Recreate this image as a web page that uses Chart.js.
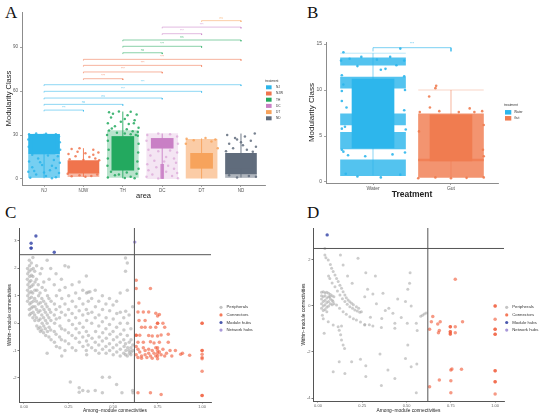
<!DOCTYPE html>
<html>
<head>
<meta charset="utf-8">
<script src="https://cdn.jsdelivr.net/npm/chart.js@4.4.1/dist/chart.umd.min.js"></script>
<style>
body { margin: 0; background: #fff; width: 550px; height: 418px; position: relative; overflow: hidden; }
canvas { position: absolute; }
.tag { position: absolute; font-family: "Liberation Serif", "DejaVu Serif", serif; font-size: 17px; color: #111; line-height: 1; }
</style>
</head>
<body>
<div class="tag" style="left:5px;top:4px">A</div>
<div class="tag" style="left:307px;top:4px">B</div>
<div class="tag" style="left:5px;top:204px">C</div>
<div class="tag" style="left:307px;top:204px">D</div>
<canvas id="cA" width="290" height="200" style="left:0;top:0"></canvas>
<canvas id="cB" width="230" height="200" style="left:300px;top:0"></canvas>
<canvas id="cC" width="275" height="213" style="left:0;top:205px"></canvas>
<canvas id="cD" width="255" height="213" style="left:295px;top:205px"></canvas>
<script>
// ---------- panel A : modularity class by area ----------
const areas = ['NJ', 'NJW', 'TH', 'DC', 'DT', 'ND'];
const denseA = [[17, 30.5], [4, 12.5], null, null, null, [3.5, 17.5]];
const hazeA = [[1, 16.5], [1.5, 4], [1, 33], [0, 31], [0.5, 27], [1, 3.5]];
const boxA = [[17, 30.5], [5, 11.5], [6, 29], [21, 27.7], [7.3, 17.5], [7.3, 17.5]];
const whiskA = [[0.5, 31], [1.5, 21], [0.5, 46], [0, 31], [0.3, 27.7], [1, 31]];
const stemA = [null, null, null, [0.3, 10], null, null];
const jitA = [
  [[-0.38,30.5],[-0.2,31],[0.05,30.8],[0.3,30.6],[0.38,29],[-0.4,27],[0.4,25],[-0.39,22],[0.41,20],[-0.3,16.5],[0.1,16],[0.35,15.5],[-0.15,14],[0.25,13],[-0.38,12],[0.4,11],[-0.05,9.5],[-0.3,8],[0.3,7.5],[0.15,6],[-0.4,5],[0.38,4],[-0.2,3],[0.05,2],[0.3,1.2],[-0.35,0.8],[0.2,0.5],[-0.1,11.5],[0.2,9],[-0.25,5.5],[0,4.5]],
  [[-0.3,20.5],[-0.1,21],[0.25,20],[0.38,18],[-0.38,17],[0.05,17.5],[-0.2,15.5],[0.15,15],[0.3,14],[-0.35,13.5],[0,13],[0.4,12.8],[-0.4,3.5],[0.35,3],[-0.1,2.5],[0.2,2],[-0.3,1.8],[0.05,1.5],[0.25,16.5],[-0.15,18.5]],
  [[-0.35,45.5],[-0.1,46],[0.2,45.8],[0.35,44],[-0.25,44.5],[0.12,43.5],[-0.3,42],[0.05,41],[0.3,40],[-0.05,39],[-0.38,38],[0.28,38],[0.15,37.5],[-0.2,36],[0.4,35],[-0.28,34.5],[0.1,34],[-0.35,33],[0.25,32.5],[0.38,32],[0.05,31],[-0.4,30],[0.38,29.5],[-0.38,26],[0.4,24],[-0.36,20],[0.39,18],[-0.38,14],[0.37,12],[-0.39,9],[0.4,7],[-0.3,5],[0.1,4.5],[0.35,3.5],[-0.2,2.5],[0.2,1.5],[-0.38,1],[0.05,0.6],[0.3,0.5],[-0.1,3],[0.2,30.5],[-0.15,31.5],[0.33,30]],
  [[-0.38,30],[-0.1,31],[0.2,30.5],[0.38,29],[-0.4,26],[0.4,24],[-0.35,20],[-0.1,19],[0.2,19.5],[0.38,18],[-0.3,16],[0.1,15],[0.3,14],[-0.2,12.5],[0.05,12],[0.35,11],[-0.38,10],[0.15,9],[-0.15,8],[0.3,7],[-0.35,6],[0.1,5],[0.38,4],[-0.25,3],[0.25,2],[-0.4,1.5],[0.4,0.5],[-0.1,0.3]],
  [[-0.38,27.5],[0.1,28],[0.35,27],[-0.2,26.5],[0.25,25.5],[-0.4,24],[0.41,21]],
  [[-0.35,30],[0.35,31],[0.1,29],[-0.1,27],[0.25,26],[-0.3,24],[0.05,23],[0.38,22],[-0.2,21],[0.15,20],[-0.38,19],[0.3,18.5],[0,25],[-0.15,28],[-0.3,2.5],[0.2,2],[0.38,1.5],[-0.1,1]]
];
const pairsA = [[0,1],[0,2],[0,3],[0,4],[0,5],[1,2],[1,3],[1,4],[1,5],[2,3],[2,4],[2,5],[3,4],[3,5],[4,5]];
const levelsA = [47, 50.9, 55.2, 59.8, 64.3, 68.4, 73, 77.5, 81.6, 86.1, 90.5, 94.8, 99.1, 103.6, 108];
const signifA = ['***', 'ns', 'ns', '***', '***', '***', '***', '***', '***', 'ns', '***', 'ns', '***', '***', 'ns'];

// ---------- panel B : modularity class by treatment ----------
const treatments = ['Water', 'Gut'];
const bandsB = [[[0.7, 2.4], [3.6, 5.4], [6.2, 7.4], [10.2, 11.4], [12.7, 13.5]], [[0.5, 2.5], [2.3, 7.4]]];
const boxB = [[3.7, 11.2], [2.3, 7.3]];
const whiskB = [[0.7, 14], [0.5, 10]];
const jitB = [
  [[-0.38,14.1],[0.35,14.5],[0.1,12.2],[0.16,12.3],[-0.38,10.6],[-0.4,8.8],[-0.34,8.1],[-0.36,6],[-0.38,3.3],[-0.32,2.9],[-0.41,13.2],[-0.3,13.4],[-0.15,13.6],[0.05,13.3],[0.22,13.6],[0.4,13.2],[-0.2,12.6],[0.3,12.7],[-0.4,11.6],[0.4,11.5],[-0.4,9.9],[0.41,10],[0.4,7.8],[-0.4,5.8],[0.42,5.7],[-0.4,3.5],[0.41,3.2],[-0.2,0.6],[0.1,0.5],[0.35,0.8],[-0.35,0.9],[0.25,3],[-0.1,2.8]],
  [[-0.2,10.2],[-0.19,10.45],[-0.28,9.3],[-0.27,8.1],[0.24,8],[0.4,7.7],[-0.4,7.6],[0.1,7.6],[-0.15,7.7],[0.3,7.6],[0.42,2.8],[-0.42,0.4],[0.42,0.5],[0,0.4],[-0.2,0.5],[0.2,0.45],[0.41,3.5],[-0.41,5.5],[0.42,6.2]]
];
const pairsB = [[0, 1]];
const levelsB = [14.6];
const signifB = ['***'];

// ---------- panels C and D : Zi-Pi roles ----------
const roles = ['Peripherals', 'Connectors', 'Module hubs', 'Network hubs'];
const piCut = 0.62;
const ziCut = 2.5;
const periphC = [
  [0.02,2.0],[0.021,1.8],[0.019,1.6],[0.022,1.4],[0.02,1.2],[0.021,1.0],[0.02,0.8],
  [0.03,2.3],[0.031,2.1],[0.029,1.9],[0.032,1.7],[0.03,1.5],[0.031,1.3],[0.029,1.1],[0.03,0.9],[0.032,0.7],[0.03,0.5],[0.031,0.3],
  [0.041,2.2],[0.04,1.95],[0.042,1.75],[0.039,1.55],[0.041,1.35],[0.04,1.15],[0.042,0.95],[0.04,0.75],[0.041,0.55],[0.039,0.35],
  [0.05,2.4],[0.052,2.0],[0.05,1.7],[0.051,1.4],[0.049,1.1],[0.052,0.8],[0.05,0.6],[0.051,0.4],[0.05,0.2],
  [0.06,1.9],[0.062,1.5],[0.061,1.2],[0.06,0.9],[0.062,0.6],[0.06,0.3],[0.061,0.1],
  [0.071,2.1],[0.07,1.6],[0.072,1.2],[0.07,0.8],[0.071,0.5],[0.07,0.2],[0.072,-0.1],
  [0.08,1.4],[0.082,1.0],[0.081,0.7],[0.08,0.4],[0.082,0.1],[0.08,-0.2],
  [0.091,1.8],[0.09,1.1],[0.092,0.75],[0.09,0.45],[0.091,0.15],[0.09,-0.15],[0.092,-0.3],
  [0.1,2.0],[0.102,1.3],[0.1,0.9],[0.101,0.6],[0.1,0.3],[0.102,0.0],[0.1,-0.25],
  [0.111,1.5],[0.11,0.8],[0.112,0.5],[0.11,0.2],[0.111,-0.1],[0.11,-0.35],
  [0.12,1.2],[0.122,0.7],[0.12,0.4],[0.121,0.1],[0.12,-0.2],[0.122,-0.45],
  [0.13,2.3],[0.132,1.0],[0.13,0.6],[0.131,0.3],[0.13,0.0],[0.132,-0.3],[0.13,-1.1],
  [0.141,1.6],[0.14,0.9],[0.142,0.5],[0.14,0.2],[0.141,-0.15],[0.14,-0.5],
  [0.15,2.0],[0.152,0.8],[0.15,0.4],[0.151,0.1],[0.15,-0.25],[0.152,-0.6],
  [0.17,1.4],[0.171,0.7],[0.17,0.3],[0.172,0.0],[0.17,-0.3],[0.171,-0.7],
  [0.18,1.8],[0.182,1.0],[0.18,0.5],[0.181,0.15],[0.18,-0.4],[0.182,-0.85],
  [0.2,1.2],[0.201,0.6],[0.2,0.2],[0.202,-0.1],[0.2,-0.5],[0.201,-0.9],
  [0.21,1.6],[0.212,0.9],[0.21,0.4],[0.211,-0.2],[0.21,-0.6],[0.212,-1.2],
  [0.23,2.1],[0.231,1.3],[0.23,0.7],[0.232,0.3],[0.23,-0.25],[0.231,-0.65],[0.23,-1.0],
  [0.25,2.05],[0.251,1.0],[0.25,0.5],[0.252,0.1],[0.25,-0.35],[0.251,-0.75],
  [0.27,1.4],[0.271,0.8],[0.27,0.35],[0.272,-0.05],[0.27,-0.45],[0.271,-0.9],[0.26,-2.15],
  [0.29,1.1],[0.291,0.6],[0.29,0.2],[0.292,-0.2],[0.29,-0.55],[0.291,-1.0],
  [0.31,1.5],[0.311,0.9],[0.31,0.45],[0.312,0.0],[0.31,-0.35],[0.311,-0.7],[0.31,-2.36],[0.31,-2.52],
  [0.33,1.2],[0.331,0.7],[0.33,0.3],[0.332,-0.15],[0.33,-0.5],[0.331,-0.85],[0.33,-2.46],
  [0.35,1.72],[0.351,1.1],[0.35,0.5],[0.352,0.1],[0.35,-0.3],[0.351,-0.65],[0.35,-1.0],[0.352,-1.15],
  [0.36,1.13],[0.361,0.8],[0.36,0.35],[0.362,-0.45],[0.36,-0.8],[0.36,-2.48],
  [0.37,1.15],[0.38,0.9],[0.381,0.4],[0.38,0.0],[0.382,-0.55],[0.38,-0.9],
  [0.4,1.2],[0.401,0.6],[0.4,0.2],[0.402,-0.3],[0.4,-0.7],[0.401,-1.0],[0.4,-2.46],
  [0.42,0.8],[0.421,0.3],[0.42,-0.1],[0.422,-0.5],[0.42,-0.8],[0.421,-1.1],
  [0.44,1.0],[0.441,0.5],[0.44,0.05],[0.442,-0.35],[0.44,-0.65],[0.441,-0.95],[0.44,-1.97],[0.44,-2.54],
  [0.46,0.7],[0.461,0.2],[0.46,-0.2],[0.462,-0.55],[0.46,-0.85],[0.461,-1.1],
  [0.48,0.9],[0.481,0.45],[0.48,-0.05],[0.482,-0.4],[0.48,-0.75],[0.481,-1.0],[0.48,-1.97],
  [0.5,0.66],[0.501,0.15],[0.5,-0.3],[0.502,-0.6],[0.5,-0.9],[0.501,-1.15],
  [0.52,0.8],[0.521,0.35],[0.52,-0.15],[0.522,-0.5],[0.52,-0.8],[0.521,-1.05],[0.52,-2.24],
  [0.54,1.1],[0.541,0.4],[0.54,0.0],[0.542,-0.4],[0.54,-0.7],[0.541,-0.95],[0.54,-1.2],[0.55,-2.54],
  [0.56,0.2],[0.561,-0.25],[0.56,-0.6],[0.562,-0.85],[0.56,-1.1],
  [0.57,2.38],[0.58,2.2],[0.57,1.9],[0.571,0.44],[0.57,-0.75],[0.572,-1.0],[0.57,-1.15],
  [0.58,1.2],[0.581,0.0],[0.58,-0.45],[0.582,-0.9],[0.58,-1.2],
  [0.59,0.3],[0.591,-0.7],[0.59,-1.0],[0.592,-1.1],
  [0.6,-0.2],[0.601,-0.6],[0.6,-0.9],[0.602,-1.05],[0.6,-1.15],
  [0.61,0.6],[0.611,-0.8],[0.61,-1.0],[0.61,-2.46],[0.612,-2.54]
];
const connC = [
  [0.63,1.57],[0.63,1.27],[0.71,1.27],[0.645,0.74],[0.64,0.41],[0.67,0.41],[0.70,0.41],[0.74,0.36],[0.75,0.26],[0.76,0.32],
  [0.646,0.1],[0.68,0.1],[0.75,0.0],[0.75,0.0],[0.78,0.0],[1.0,0.0],[1.0,0.0],
  [0.66,-0.15],[0.68,-0.15],[0.71,-0.15],[0.74,-0.15],[0.79,-0.15],
  [0.63,-0.44],[0.63,-0.44],[0.65,-0.44],[0.70,-0.45],[0.72,-0.47],[0.75,-0.47],[0.77,-0.43],[0.81,-0.4],
  [0.64,-0.7],[0.67,-0.7],[0.71,-0.68],[0.73,-0.72],[0.76,-0.7],[0.81,-0.7],
  [0.63,-0.85],[0.64,-0.95],[0.65,-1.05],[0.63,-1.15],[0.66,-1.2],[0.67,-0.9],[0.68,-1.0],[0.68,-1.15],[0.69,-1.25],
  [0.70,-0.95],[0.70,-1.1],[0.71,-1.2],[0.72,-1.0],[0.72,-1.28],[0.73,-1.1],[0.74,-0.9],[0.74,-1.2],
  [0.75,-0.9],[0.75,-1.0],[0.75,-1.1],[0.75,-1.2],[0.75,-1.3],[0.76,-1.05],[0.77,-1.15],[0.78,-0.95],[0.79,-1.2],
  [0.80,-1.1],[0.82,-1.0],[0.83,-1.2],[0.85,-1.0],[0.88,-1.13],[0.89,-1.1],[0.93,-1.17],[0.66,-1.28],[0.64,-1.25],
  [1.0,-1.0],[1.0,-1.0],[1.0,-1.13],[1.0,-1.25],[1.0,-1.3],[1.0,-1.75],
  [0.64,-2.54],[0.71,-2.54],[0.77,-2.6],[1.0,-2.64],[1.0,-2.64]
];
const moduleC = [[0.04,2.92],[0.04,2.74],[0.04,2.74],[0.067,3.18],[0.17,2.59]];
const networkC = [[0.622,2.96]];

const periphD = [
  [0.02,0.6],[0.03,0.62],[0.04,0.58],[0.05,0.6],[0.06,0.55],[0.07,0.5],[0.08,0.45],[0.09,0.4],
  [0.02,0.45],[0.03,0.4],[0.04,0.45],[0.05,0.35],[0.06,0.4],[0.07,0.3],[0.08,0.25],
  [0.02,0.3],[0.03,0.2],[0.04,0.25],[0.05,0.15],[0.06,0.2],[0.07,0.1],[0.08,0.05],[0.09,0.1],
  [0.02,0.1],[0.03,0.0],[0.04,0.05],[0.05,-0.05],[0.06,0.0],[0.02,-0.1],[0.03,-0.2],[0.04,-0.15],[0.05,-0.25],
  [0.025,-0.4],[0.03,-0.55],[0.035,-1.19],[0.058,-0.68],[0.086,-0.83],[0.133,-0.87],
  [0.039,2.5],[0.039,2.22],[0.045,2.1],[0.058,2.0],[0.07,1.8],[0.077,1.64],[0.086,1.5],[0.096,1.35],[0.105,1.2],[0.114,1.06],
  [0.124,0.9],[0.133,0.77],[0.142,0.62],[0.152,0.48],[0.16,0.36],[0.17,0.26],[0.18,0.18],[0.19,0.12],[0.2,0.05],[0.217,-0.03],[0.23,-0.1],[0.245,-0.25],
  [0.06,1.3],[0.067,1.2],[0.08,1.0],[0.096,0.84],[0.11,0.65],[0.124,0.48],[0.138,0.32],[0.152,0.19],[0.165,0.08],[0.18,-0.03],[0.195,-0.1],[0.208,-0.17],[0.222,-0.22],[0.236,-0.27],
  [0.067,0.4],[0.085,0.2],[0.105,0.04],[0.122,-0.1],[0.142,-0.25],[0.16,-0.36],[0.18,-0.47],[0.2,-0.55],[0.217,-0.61],[0.24,-0.7],[0.264,-0.8],[0.29,-0.82],[0.31,-0.87],[0.358,-0.93],
  [0.114,-0.9],[0.12,-1.05],[0.128,-1.25],[0.133,-1.48],[0.142,-1.7],[0.15,-1.85],
  [0.127,2.22],[0.226,2.07],[0.142,1.78],[0.167,1.3],[0.27,1.45],[0.324,1.3],[0.52,1.45],[0.517,0.99],[0.507,0.73],[0.28,0.73],
  [0.193,0.99],[0.367,0.55],[0.31,0.52],[0.264,0.4],[0.494,0.19],[0.526,0.0],[0.423,-0.32],[0.36,-0.54],[0.296,-0.49],[0.264,-0.83],
  [0.434,-0.97],[0.434,-0.75],[0.504,-0.75],[0.555,-0.75],[0.56,-1.07],[0.58,-0.45],[0.59,-0.4],[0.6,-0.35],[0.61,-0.3],[0.507,-1.7],
  [0.12,-2.42],[0.152,-2.93],[0.19,-2.42],[0.24,-2.32],[0.27,-2.6],[0.27,-3.07],[0.35,-2.09],[0.395,-2.78],[0.434,-3.15],[0.494,-2.28],
  [0.526,-2.64],[0.558,-2.52],[0.358,-3.46],[0.086,-2.86],[0.555,-3.77],[0.4,-0.1],[0.45,0.3],[0.33,0.1],[0.38,-0.2],[0.47,-0.5]
];
const connD = [
  [0.775,1.16],[0.648,-0.46],[0.64,-0.68],[0.63,-1.01],[0.676,-0.78],[0.69,-0.68],[0.685,-1.07],[0.68,-1.16],
  [0.747,-0.9],[0.747,-0.9],[0.747,-1.12],[0.747,-1.12],[0.747,-1.22],[0.747,-1.22],[0.775,-0.9],[0.775,-1.16],[0.816,-0.68],
  [1.0,0.0],[1.0,0.0],[1.0,-0.58],[1.0,-1.01],[1.0,-1.01],[1.0,-1.23],[1.0,-1.23],
  [0.75,-2.78],[0.756,-2.74],[0.81,-2.75],[1.0,-2.81],[1.0,-2.81],[0.685,-3.22],[0.75,-3.25],[1.0,-3.29],[1.0,-3.29],
  [0.63,-3.51],[0.75,-3.77],[1.0,-3.83]
];
const moduleD = [[0.052,3.09]];
const networkD = [];

// ---------- styling ----------
const FONT = '"Liberation Sans", Arial, sans-serif';
const areaColors = ['#2cb5ea', '#f0744d', '#23a95f', '#c97fc5', '#f7a35c', '#606c7c'];
const hazeAlpha = [0.65, 0.5, 0.32, 0.2, 0.55, 0.5];
const treatColors = ['#2db6ec', '#f07c50'];
const roleColors = ['rgba(170,170,170,0.6)', 'rgba(240,85,50,0.6)', 'rgba(60,75,170,0.85)', 'rgba(160,145,215,0.9)'];
const legendRoleColors = ['#c4c4c4', '#f47a5a', '#4a58ad', '#a898d8'];

function fade(hex, a) {
  const n = parseInt(hex.slice(1), 16);
  return 'rgba(' + (n >> 16) + ',' + ((n >> 8) & 255) + ',' + (n & 255) + ',' + a + ')';
}

function axis(o) {
  return {
    type: 'linear', min: o.min, max: o.max, offset: false,
    afterBuildTicks: s => { s.ticks = o.ticks.map(v => ({ value: v })); },
    afterFit: s => { if (o.w) s.width = o.w; if (o.h) s.height = o.h; },
    ticks: { callback: o.fmt || (v => v), font: { family: FONT, size: o.tickSize }, color: o.tickColor,
             padding: o.tickPad, maxRotation: 0, autoSkip: false },
    grid: { offset: false, drawOnChartArea: false, drawTicks: true, tickLength: o.tickLen, color: o.line, lineWidth: 0.8 },
    border: { color: o.line, width: 1 },
    title: { display: true, text: o.title, color: '#222', padding: o.titlePad,
             font: { family: FONT, size: o.titleSize, lineHeight: 1, weight: o.bold ? 'bold' : 'normal' } }
  };
}

// text labels of the comparison brackets
const sigLabels = {
  id: 'sigLabels',
  afterDatasetsDraw(chart, args, o) {
    if (!o.pairs) return;
    const { ctx, scales: { x, y } } = chart;
    ctx.save();
    ctx.font = o.size + 'px ' + FONT;
    ctx.textAlign = 'center';
    ctx.textBaseline = 'bottom';
    o.pairs.forEach((p, k) => {
      ctx.fillStyle = o.colors[k];
      ctx.fillText(o.labels[k], x.getPixelForValue((p[0] + p[1]) / 2), y.getPixelForValue(o.levels[k]) - o.lift);
    });
    ctx.restore();
  }
};

// ggplot-like legend drawn beside the panel
const sideLegend = {
  id: 'sideLegend',
  afterDraw(chart, args, o) {
    if (!o.items) return;
    const ctx = chart.ctx;
    ctx.save();
    ctx.textBaseline = 'middle';
    ctx.textAlign = 'left';
    if (o.title) {
      ctx.font = o.size + 'px ' + FONT;
      ctx.fillStyle = '#333';
      ctx.fillText(o.title, o.x, o.titleY);
    }
    o.items.forEach((it, k) => {
      const cy = o.y + k * o.gap;
      ctx.fillStyle = it.color;
      if (o.shape === 'square') {
        ctx.fillRect(o.x + 1, cy - o.s / 2, o.s * 1.4, o.s);
      } else {
        ctx.beginPath();
        ctx.arc(o.x, cy, o.s / 2, 0, Math.PI * 2);
        ctx.fill();
      }
      ctx.fillStyle = '#333';
      ctx.font = o.size + 'px ' + FONT;
      ctx.fillText(it.label, o.x + o.tx, cy);
    });
    ctx.restore();
  }
};

function bar(data, color, width, order) {
  return { type: 'bar', data: data, backgroundColor: color, barThickness: width, grouped: false,
           borderWidth: 0, order: order };
}
function seg(points, color, width, order) {
  return { type: 'line', data: points, borderColor: color, borderWidth: width, pointRadius: 0,
           fill: false, tension: 0, order: order };
}
function dots(points, color, r, order) {
  return { type: 'scatter', data: points, backgroundColor: color, pointRadius: r, pointBorderWidth: 0,
           pointHoverRadius: 0, order: order };
}
function bracketSets(pairs, levels, colors, drop) {
  return pairs.map((p, k) => seg([
    { x: p[0], y: levels[k] - drop }, { x: p[0], y: levels[k] },
    { x: p[1], y: levels[k] }, { x: p[1], y: levels[k] - drop }
  ], colors[k], 0.9, 1));
}
const base = {
  responsive: false, animation: false, events: [],
  plugins: { legend: { display: false }, tooltip: { enabled: false } }
};

// ---------- chart A ----------
(function () {
  const ds = [];
  hazeA.forEach((r, i) => { if (r) ds.push(bar([{ x: i, y: r }], fade(areaColors[i], hazeAlpha[i]), 31, 9)); });
  denseA.forEach((r, i) => { if (r) ds.push(bar([{ x: i, y: r }], areaColors[i], 31, 8)); });
  whiskA.forEach((r, i) => ds.push(seg([{ x: i, y: r[0] }, { x: i, y: r[1] }], areaColors[i], 0.9, 7)));
  stemA.forEach((r, i) => { if (r) ds.push(bar([{ x: i, y: r }], fade(areaColors[i], 0.85), 3, 6)); });
  jitA.forEach((pts, i) => ds.push(dots(pts.map(p => ({ x: i + p[0], y: p[1] })),
    fade(areaColors[i], i === 3 ? 0.45 : 0.85), 1.25, 5)));
  boxA.forEach((r, i) => ds.push(bar([{ x: i, y: r }], areaColors[i], 22, 4)));
  const bColors = pairsA.map(p => fade(areaColors[p[0]], 0.6));
  bracketSets(pairsA, levelsA, bColors, 0.9).forEach(d => ds.push(d));

  new Chart(document.getElementById('cA'), {
    type: 'scatter',
    data: { datasets: ds },
    plugins: [sigLabels, sideLegend],
    options: Object.assign({}, base, {
      layout: { padding: { top: 12, right: 25, left: 0, bottom: 0 } },
      scales: {
        x: axis({ min: -0.56, max: 5.61, ticks: [0, 1, 2, 3, 4, 5], fmt: v => areas[v], h: 15, tickSize: 4.5,
                  tickColor: '#555', tickPad: 1, tickLen: 2, line: '#8c8c8c', title: 'area', titleSize: 7.5, titlePad: 0 }),
        y: axis({ min: -4.1, max: 113.9, ticks: [0, 30, 60, 90], w: 22, tickSize: 4.5,
                  tickColor: '#555', tickPad: 2, tickLen: 2, line: '#8c8c8c', title: 'Modularity Class', titleSize: 7.5, titlePad: 5.5 })
      },
      plugins: Object.assign({}, base.plugins, {
        sigLabels: { pairs: pairsA, levels: levelsA, labels: signifA, colors: pairsA.map(p => fade(areaColors[p[0]], 0.75)), size: 3.2, lift: 0.8 },
        sideLegend: { title: 'treatment', x: 265, titleY: 81, y: 87.3, gap: 6.2, s: 4, tx: 11, size: 3.2, shape: 'square',
                      items: areas.map((a, i) => ({ label: a, color: areaColors[i] })) }
      })
    })
  });
})();

// ---------- chart B ----------
(function () {
  const ds = [];
  bandsB.forEach((list, i) => list.forEach(r => ds.push(bar([{ x: i, y: r }], fade(treatColors[i], 0.82), 65, 9))));
  whiskB.forEach((r, i) => {
    ds.push(seg([{ x: i, y: r[0] }, { x: i, y: r[1] }], fade(treatColors[i], 0.7), 0.8, 7));
    ds.push(seg([{ x: i - 0.42, y: r[1] }, { x: i + 0.42, y: r[1] }], fade(treatColors[i], 0.45), 0.7, 7));
  });
  jitB.forEach((pts, i) => ds.push(dots(pts.map(p => ({ x: i + p[0], y: p[1] })), fade(treatColors[i], 0.9), 1.3, 5)));
  boxB.forEach((r, i) => ds.push(bar([{ x: i, y: r }], treatColors[i], 42, 4)));
  bracketSets(pairsB, levelsB, [fade(treatColors[0], 0.7)], 0.4).forEach(d => ds.push(d));

  new Chart(document.getElementById('cB'), {
    type: 'scatter',
    data: { datasets: ds },
    plugins: [sigLabels, sideLegend],
    options: Object.assign({}, base, {
      layout: { padding: { top: 42, right: 32, left: 0, bottom: 0 } },
      scales: {
        x: axis({ min: -0.603, max: 1.603, ticks: [0, 1], fmt: v => treatments[v], h: 17, tickSize: 5,
                  tickColor: '#555', tickPad: 1, tickLen: 2, line: '#8c8c8c', title: 'Treatment', titleSize: 8.5, titlePad: 0.8, bold: true }),
        y: axis({ min: -0.11, max: 15.22, ticks: [0, 5, 10, 15], w: 26, tickSize: 5,
                  tickColor: '#555', tickPad: 2, tickLen: 2, line: '#8c8c8c', title: 'Modularity Class', titleSize: 8, titlePad: 8 })
      },
      plugins: Object.assign({}, base.plugins, {
        sigLabels: { pairs: pairsB, levels: levelsB, labels: signifB, colors: [fade(treatColors[0], 0.8)], size: 3.5, lift: 2 },
        sideLegend: { title: 'treatment', x: 204, titleY: 105, y: 112.3, gap: 6, s: 4.5, tx: 10, size: 3.3, shape: 'square',
                      items: treatments.map((t, i) => ({ label: t, color: treatColors[i] })) }
      })
    })
  });
})();

// ---------- charts C and D ----------
function roleChart(id, sets, yr, yticks, lay) {
  const xy = a => a.map(p => ({ x: p[0], y: p[1] }));
  const ds = [
    dots(xy(sets[3]), roleColors[3], 1.7, 2),
    dots(xy(sets[2]), roleColors[2], 1.7, 2),
    dots(xy(sets[1]), roleColors[1], 1.75, 3),
    dots(xy(sets[0]), roleColors[0], lay.r, 4),
    seg([{ x: piCut, y: yr[0] }, { x: piCut, y: yr[1] }], '#555', 1, 1),
    seg([{ x: -0.1, y: ziCut }, { x: 1.2, y: ziCut }], '#555', 1, 1)
  ];
  new Chart(document.getElementById(id), {
    type: 'scatter',
    data: { datasets: ds },
    plugins: [sideLegend],
    options: Object.assign({}, base, {
      layout: { padding: { top: 23, right: lay.pad, left: 0, bottom: 0 } },
      scales: {
        x: axis({ min: -0.028, max: 1.05, ticks: [0, 0.25, 0.5, 0.75, 1], fmt: v => v.toFixed(2), h: lay.h, tickSize: 4,
                  tickColor: '#666', tickPad: 0.5, tickLen: 1.5, line: '#555', title: 'Among\u2212module connectivities', titleSize: 4.8, titlePad: 4.9 }),
        y: axis({ min: yr[0], max: yr[1], ticks: yticks, w: lay.w, tickSize: 4,
                  tickColor: '#666', tickPad: 1, tickLen: 1.5, line: '#555', title: 'Within\u2212module connectivities', titleSize: 4.8, titlePad: lay.tp })
      },
      plugins: Object.assign({}, base.plugins, {
        sideLegend: { x: lay.x, y: 102.3, gap: 7.6, s: 3.2, tx: 5.5, size: 4.3, shape: 'dot',
                      items: roles.map((r, i) => ({ label: r, color: legendRoleColors[i] })) }
      })
    })
  });
}

roleChart('cC', [periphC, connC, moduleC, networkC], [-2.876, 3.474], [-2, -1, 0, 1, 2, 3],
  { pad: 64, h: 16, w: 19, tp: 7.6, x: 221, r: 1.75 });
roleChart('cD', [periphD, connD, moduleD, networkD], [-4.13, 3.39], [-4, -2, 0, 2],
  { pad: 46, h: 17, w: 18, tp: 6.6, x: 211.7, r: 1.5 });
</script>
</body>
</html>
